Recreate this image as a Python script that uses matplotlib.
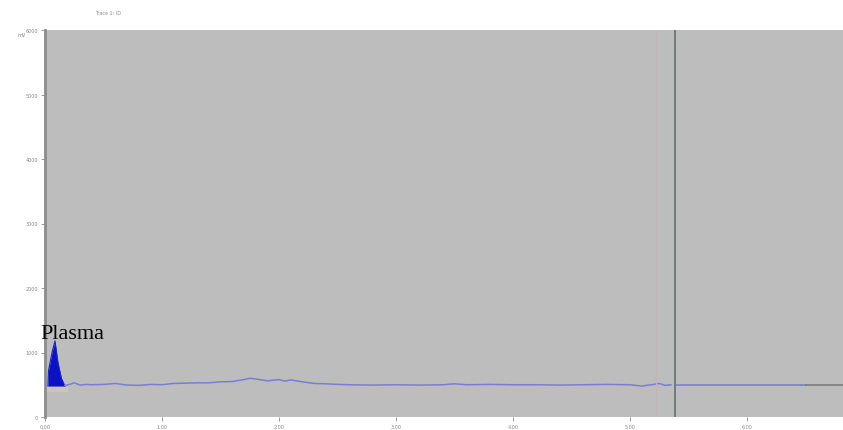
import matplotlib.pyplot as plt

# detector trace, mV against run time
trace_t = [0.17, 0.20, 0.25, 0.30, 0.35, 0.40, 0.50, 0.60, 0.70, 0.80, 0.90,
           1.00, 1.10, 1.20, 1.30, 1.40, 1.50, 1.60, 1.70, 1.75, 1.80, 1.90,
           2.00, 2.05, 2.10, 2.20, 2.30, 2.40, 2.50, 2.60, 2.80, 3.00, 3.20,
           3.40, 3.50, 3.60, 3.80, 4.00, 4.20, 4.40, 4.60, 4.80, 5.00, 5.10,
           5.20, 5.25, 5.30, 5.35]
trace_mv = [490, 500, 530, 495, 505, 500, 505, 520, 495, 490, 505,
            500, 520, 525, 530, 530, 545, 550, 580, 600, 590, 560,
            580, 555, 575, 545, 520, 515, 505, 500, 495, 500, 495,
            500, 515, 500, 505, 500, 500, 495, 500, 505, 500, 480,
            505, 520, 490, 500]

# plasma peak
peak_t = [0.025, 0.03, 0.06, 0.085, 0.11, 0.14, 0.17]
peak_mv = [480, 720, 1000, 1180, 850, 600, 480]

tail_t = [5.38, 6.50]
tail_mv = [500, 500]
base_t = [6.50, 6.85]
base_mv = [495, 495]

marker_t = 5.38
faint_t = 5.22

x_ticks = [0, 1, 2, 3, 4, 5, 6]
x_labels = ["0.00", "1.00", "2.00", "3.00", "4.00", "5.00", "6.00"]
y_ticks = [0, 1000, 2000, 3000, 4000, 5000, 6000]
y_labels = ["0", "1000", "2000", "3000", "4000", "5000", "6000"]

fig = plt.figure(figsize=(8.43, 4.31), dpi=100)
ax = fig.add_axes([45 / 843, 13 / 431, 798 / 843, 387 / 431])
ax.set_facecolor("#bdbdbd")

ax.fill_between([0.02, 0.20], 380, 470, color="#d8d4a8", alpha=0.5, lw=0)
ax.fill_between(peak_t, 480, peak_mv, color="#0a12c4", lw=0)
ax.plot(peak_t, peak_mv, color="#1a22d0", lw=0.8)

ax.plot(trace_t, trace_mv, color="#7c7cd6", lw=1.1)
ax.plot(tail_t, tail_mv, color="#7c7cd6", lw=1.2)
ax.plot(base_t, base_mv, color="#7d7d7d", lw=1.2)

ax.axvline(faint_t, color="#c8b4b8", lw=0.8)
ax.axvline(marker_t, color="#6c7878", lw=1.3)

ax.text(-0.04, 1230, "Plasma", family="Liberation Serif", fontsize=16,
        color="black", clip_on=False)

ax.set_xlim(0, 6.82)
ax.set_ylim(0, 6000)
ax.set_xticks(x_ticks)
ax.set_xticklabels(x_labels)
ax.set_yticks(y_ticks)
ax.set_yticklabels(y_labels)
ax.tick_params(labelsize=3.5, colors="#8a8a8a", length=3, width=0.6, pad=2)

for side in ["top", "right", "bottom"]:
    ax.spines[side].set_visible(False)
ax.spines["left"].set_color("#8c8c8c")
ax.spines["left"].set_linewidth(2)

fig.text(95 / 843, 1 - 15 / 431, "Trace 1: ID", fontsize=3.5, color="#8a8a8a")
fig.text(18 / 843, 1 - 37 / 431, "mV", fontsize=3.5, color="#8a8a8a")

fig.savefig("out.png", dpi=100)
